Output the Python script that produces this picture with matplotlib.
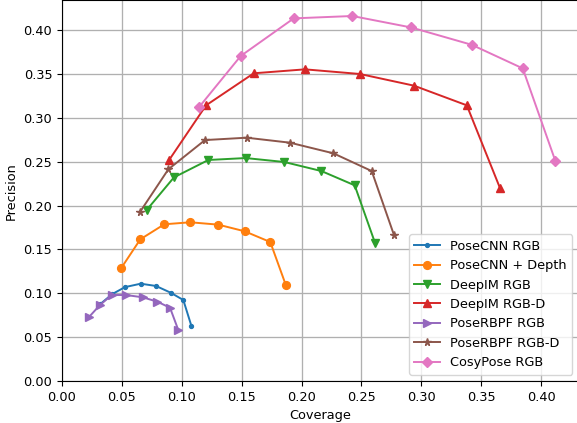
import matplotlib
matplotlib.use("Agg")
import matplotlib.pyplot as plt

# coverage / precision
posecnn_rgb_x = [0.0317, 0.0420, 0.0526, 0.0657, 0.0785, 0.0908, 0.1013, 0.1080]
posecnn_rgb_y = [0.0874, 0.0991, 0.1070, 0.1109, 0.1083, 0.1006, 0.0923, 0.0630]

posecnn_depth_x = [0.0495, 0.0654, 0.0854, 0.1071, 0.1305, 0.1526, 0.1739, 0.1868]
posecnn_depth_y = [0.1288, 0.1615, 0.1786, 0.1809, 0.1782, 0.1706, 0.1584, 0.1097]

deepim_rgb_x = [0.0707, 0.0935, 0.1222, 0.1534, 0.1856, 0.2166, 0.2444, 0.2614]
deepim_rgb_y = [0.1949, 0.2321, 0.2519, 0.2541, 0.2496, 0.2393, 0.2230, 0.1573]

deepim_rgbd_x = [0.0894, 0.1203, 0.1601, 0.2029, 0.2488, 0.2939, 0.3380, 0.3658]
deepim_rgbd_y = [0.2518, 0.3142, 0.3507, 0.3552, 0.3499, 0.3366, 0.3142, 0.2196]

poserbpf_rgb_x = [0.0228, 0.0317, 0.0415, 0.0534, 0.0674, 0.0796, 0.0902, 0.0971]
poserbpf_rgb_y = [0.0733, 0.0866, 0.0980, 0.0980, 0.0954, 0.0904, 0.0835, 0.0581]

poserbpf_rgbd_x = [0.0651, 0.0888, 0.1194, 0.1542, 0.1904, 0.2266, 0.2586, 0.2772]
poserbpf_rgbd_y = [0.1926, 0.2413, 0.2746, 0.2773, 0.2716, 0.2595, 0.2393, 0.1664]

cosypose_x = [0.1147, 0.1492, 0.1935, 0.2424, 0.2917, 0.3421, 0.3847, 0.4119]
cosypose_y = [0.3126, 0.3704, 0.4133, 0.4160, 0.4029, 0.3832, 0.3563, 0.2510]

plt.rcParams['font.size'] = 9.3
plt.rcParams['lines.linewidth'] = 1.4
plt.rcParams['lines.markersize'] = 5.6

fig = plt.figure(figsize=(5.77, 4.23), dpi=100)
ax = fig.add_axes([62 / 577, 1 - 381 / 423, 516.6 / 577, 380.7 / 423])

ax.plot(posecnn_rgb_x, posecnn_rgb_y, marker='.', label='PoseCNN RGB')
ax.plot(posecnn_depth_x, posecnn_depth_y, marker='o', label='PoseCNN + Depth')
ax.plot(deepim_rgb_x, deepim_rgb_y, marker='v', label='DeepIM RGB')
ax.plot(deepim_rgbd_x, deepim_rgbd_y, marker='^', label='DeepIM RGB-D')
ax.plot(poserbpf_rgb_x, poserbpf_rgb_y, marker='>', label='PoseRBPF RGB')
ax.plot(poserbpf_rgbd_x, poserbpf_rgbd_y, marker='*', label='PoseRBPF RGB-D')
ax.plot(cosypose_x, cosypose_y, marker='D', label='CosyPose RGB')

ax.set_xlim(left=0)
ax.set_ylim(bottom=0)
ax.set_xlabel('Coverage')
ax.set_ylabel('Precision')
ax.grid(True, color='#b0b0b0', linewidth=0.95)
ax.set_axisbelow(True)
ax.legend(loc='lower right')

fig.savefig('out.png', dpi=100)
